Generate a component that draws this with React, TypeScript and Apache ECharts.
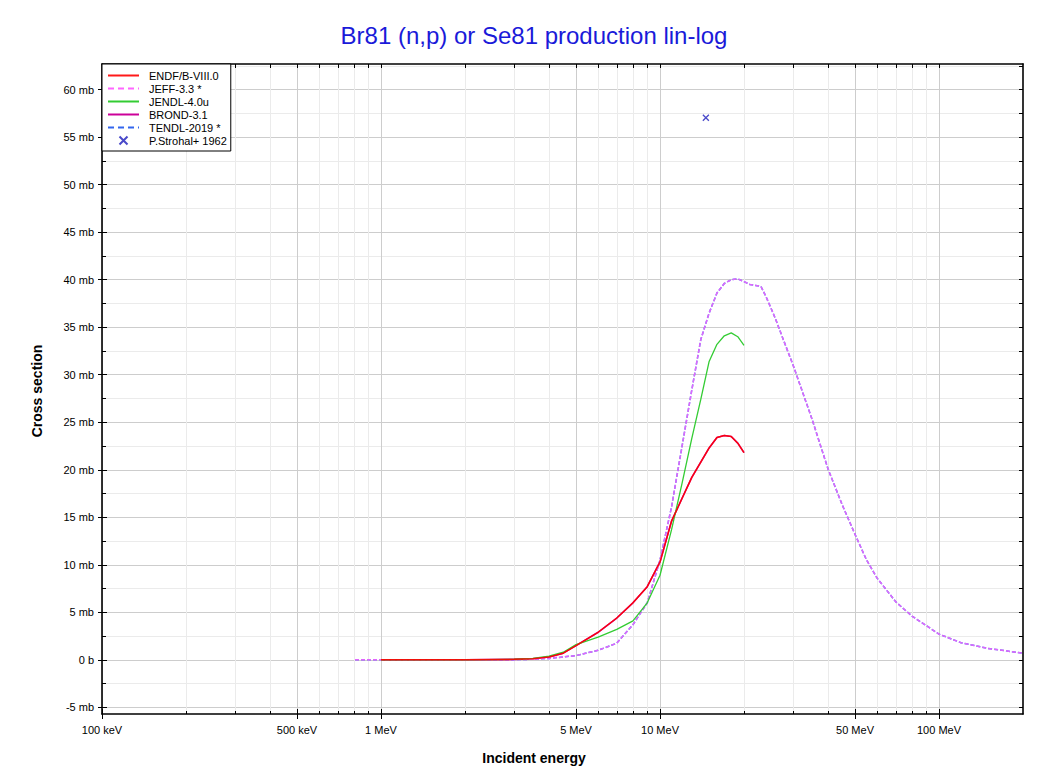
import React, { useEffect, useRef } from "react";
import * as echarts from "echarts";

const FONT = "'Liberation Sans', Arial, Helvetica, sans-serif";

const chartTitle = "Br81 (n,p) or Se81 production lin-log";
const xAxisTitle = "Incident energy";
const yAxisTitle = "Cross section";

// axis ranges: energy in MeV, cross section in mb
const xRange = [0.1, 200];
const yRange = [-5.7, 62.7];

const xLabelTicks = [0.1, 0.5, 1, 5, 10, 50, 100];
const xMinorTicks = [0.2, 0.3, 0.4, 0.6, 0.7, 0.8, 0.9, 2, 3, 4, 6, 7, 8, 9, 20, 30, 40, 60, 70, 80, 90];
const yLabelTicks = [-5, 0, 5, 10, 15, 20, 25, 30, 35, 40, 45, 50, 55, 60];
const yMinorTicks = [-2.5, 2.5, 7.5, 12.5, 17.5, 22.5, 27.5, 32.5, 37.5, 42.5, 47.5, 52.5, 57.5, 62.5];

// ENDF/B-VIII.0
const endfEnergy = [1, 2, 3, 3.5, 4, 4.5, 5, 6, 7, 8, 9, 10, 11, 12, 13, 14, 15, 16, 17, 18, 19, 20];
const endfXs = [0, 0.005, 0.05, 0.12, 0.3, 0.7, 1.5, 2.9, 4.4, 6.0, 7.7, 10.3, 14.6, 17.0, 19.2, 20.8, 22.3, 23.4, 23.6, 23.5, 22.8, 21.8];

// JEFF-3.3 *
const jeffEnergy = [0.807, 1, 2, 3, 3.5, 4, 4.5, 5, 6, 7, 8, 9, 10, 11, 12, 13, 14, 15, 16, 17, 18, 19, 20, 21, 22, 23, 24, 25, 26, 28, 30, 35, 40, 45, 50, 55, 60, 70, 80, 90, 100, 120, 150, 200];
const jeffXs = [0, 0, 0.002, 0.02, 0.06, 0.15, 0.3, 0.45, 1.0, 1.75, 3.7, 6.0, 10.5, 16.1, 22.5, 28.4, 33.7, 36.5, 38.6, 39.6, 40.0, 40.1, 39.8, 39.5, 39.4, 39.3, 38.2, 37.0, 35.8, 33.3, 31.0, 25.4, 20.1, 16.3, 13.2, 10.5, 8.6, 6.1, 4.6, 3.6, 2.7, 1.8, 1.2, 0.7];

// JENDL-4.0u
const jendlEnergy = [1, 2, 3, 3.5, 4, 4.5, 5, 6, 7, 8, 9, 10, 11, 12, 13, 14, 15, 16, 17, 18, 19, 20];
const jendlXs = [0, 0.005, 0.06, 0.15, 0.38, 0.8, 1.6, 2.4, 3.2, 4.1, 6.0, 8.9, 13.7, 18.6, 23.3, 27.4, 31.4, 33.2, 34.1, 34.4, 34.0, 33.1];

// BROND-3.1 (lies under the ENDF curve)
const brondEnergy = [1, 2, 3, 3.5, 4, 4.5, 5, 6, 7, 8, 9, 10, 11, 12, 13, 14, 15, 16, 17, 18, 19, 20];
const brondXs = [0, 0.005, 0.05, 0.12, 0.3, 0.7, 1.5, 2.9, 4.4, 6.0, 7.7, 10.3, 14.6, 17.0, 19.2, 20.8, 22.3, 23.4, 23.6, 23.5, 22.8, 21.8];

// TENDL-2019 * (lies under the JEFF curve)
const tendlEnergy = [0.807, 1, 2, 3, 3.5, 4, 4.5, 5, 6, 7, 8, 9, 10, 11, 12, 13, 14, 15, 16, 17, 18, 19, 20, 21, 22, 23, 24, 25, 26, 28, 30, 35, 40, 45, 50, 55, 60, 70, 80, 90, 100, 120, 150, 200];
const tendlXs = [0, 0, 0.002, 0.02, 0.06, 0.15, 0.3, 0.45, 1.0, 1.75, 3.7, 6.0, 10.5, 16.1, 22.5, 28.4, 33.7, 36.5, 38.6, 39.6, 40.0, 40.1, 39.8, 39.5, 39.4, 39.3, 38.2, 37.0, 35.8, 33.3, 31.0, 25.4, 20.1, 16.3, 13.2, 10.5, 8.6, 6.1, 4.6, 3.6, 2.7, 1.8, 1.2, 0.7];

// P.Strohal+ 1962
const expEnergy = [14.6];
const expXs = [57.05];

const seriesNames = ["ENDF/B-VIII.0", "JEFF-3.3 *", "JENDL-4.0u", "BROND-3.1", "TENDL-2019 *", "P.Strohal+ 1962"];

const zip = (a: number[], b: number[]) => a.map((v, i) => [v, b[i]]);
const lg = (v: number) => Math.log10(v);
const LX0 = lg(xRange[0]);
const LX1 = lg(xRange[1]);

function energyLabel(v: number) {
  const e = Math.pow(10, v);
  if (e < 0.999) return `${Math.round(e * 1000)} keV`;
  return `${Math.round(e)} MeV`;
}
function xsLabel(v: number) {
  if (Math.abs(v) < 1e-9) return "0 b";
  return `${v} mb`;
}

type AxOpt = {
  position: string;
  line?: boolean;
  ticks?: number[];
  inside?: boolean;
  len?: number;
  labels?: boolean;
  split?: string;
};

function overlayAxis(kind: "x" | "y", o: AxOpt) {
  const isX = kind === "x";
  const min = isX ? LX0 : yRange[0];
  const max = isX ? LX1 : yRange[1];
  return {
    type: "value",
    min,
    max,
    position: o.position,
    silent: true,
    axisLine: { show: !!o.line, onZero: false, lineStyle: { color: "#000", width: 1.6 } },
    axisTick: o.ticks
      ? { show: true, inside: !!o.inside, length: o.len ?? 4, customValues: o.ticks, lineStyle: { color: "#000", width: 1 } }
      : { show: false },
    axisLabel: o.labels && o.ticks
      ? {
          show: true,
          customValues: o.ticks,
          formatter: isX ? energyLabel : xsLabel,
          margin: isX ? 10 : 8,
          fontSize: 11,
          fontFamily: FONT,
          color: "#000",
        }
      : { show: false },
    splitLine: o.split ? { show: true, lineStyle: { color: o.split, width: 1 } } : { show: false },
    minorTick: { show: false },
    minorSplitLine: { show: false },
  };
}

function lineSeries(name: string, e: number[], xs: number[], color: string, width: number, z: number, extra: any = {}) {
  return {
    name,
    type: "line",
    xAxisIndex: 0,
    yAxisIndex: 0,
    data: zip(e, xs),
    symbol: "none",
    showSymbol: false,
    lineStyle: { color, width, ...extra },
    itemStyle: { color, opacity: 0 },
    z,
    silent: true,
  };
}

function buildOption() {
  const xMajor = xLabelTicks.map(lg);
  const xMinor = xMinorTicks.map(lg);
  const yAll = [...yLabelTicks, ...yMinorTicks].sort((a, b) => a - b);

  return {
    animation: false,
    backgroundColor: "#ffffff",
    textStyle: { fontFamily: FONT },
    grid: { left: 102, right: 26, top: 64, bottom: 60, containLabel: false, outerBoundsMode: "none" },
    xAxis: [
      {
        type: "log",
        logBase: 10,
        min: xRange[0],
        max: xRange[1],
        position: "bottom",
        axisLine: { show: false, onZero: false },
        axisTick: { show: false },
        axisLabel: { show: false },
        splitLine: { show: false },
        minorTick: { show: false },
        minorSplitLine: { show: false },
      },
      overlayAxis("x", { position: "bottom", ticks: xMinor, inside: true, len: 3, split: "#ebebeb" }),
      overlayAxis("x", { position: "bottom", line: true, ticks: xMajor, inside: false, len: 5, labels: true, split: "#cdcdcd" }),
      overlayAxis("x", { position: "bottom", ticks: xMajor, inside: true, len: 5 }),
      overlayAxis("x", { position: "top", line: true, ticks: [...xMajor, ...xMinor], inside: true, len: 4 }),
    ],
    yAxis: [
      overlayAxis("y", { position: "left", line: true, ticks: yLabelTicks, inside: false, len: 4, labels: true, split: "#cdcdcd" }),
      overlayAxis("y", { position: "left", ticks: yMinorTicks, inside: true, len: 4, split: "#ebebeb" }),
      overlayAxis("y", { position: "left", ticks: yLabelTicks, inside: true, len: 5 }),
      overlayAxis("y", { position: "right", line: true, ticks: yAll, inside: true, len: 4 }),
    ],
    legend: {
      orient: "vertical",
      left: 102,
      top: 64,
      itemWidth: 31,
      itemHeight: 8,
      itemGap: 2,
      padding: [6, 4, 5, 5],
      backgroundColor: "#ffffff",
      borderColor: "#000000",
      borderWidth: 1,
      borderRadius: 0,
      selectedMode: false,
      textStyle: { fontFamily: FONT, fontSize: 11, color: "#000", padding: [0, 0, 0, 5] },
      data: [
        { name: seriesNames[0], lineStyle: { width: 2 } },
        { name: seriesNames[1], lineStyle: { width: 2, type: [6, 4], opacity: 1 } },
        { name: seriesNames[2], lineStyle: { width: 2 } },
        { name: seriesNames[3], lineStyle: { width: 2 } },
        { name: seriesNames[4], lineStyle: { width: 2, type: [6, 4] } },
        { name: seriesNames[5] },
      ],
      z: 10,
    },
    series: [
      lineSeries(seriesNames[3], brondEnergy, brondXs, "#cc0099", 1.6, 2),
      lineSeries(seriesNames[4], tendlEnergy, tendlXs, "#3366ee", 1.5, 2, { type: [4, 2] }),
      lineSeries(seriesNames[1], jeffEnergy, jeffXs, "#ff66ff", 1.5, 3, { type: [4, 2], opacity: 0.85 }),
      lineSeries(seriesNames[2], jendlEnergy, jendlXs, "#33cc33", 1.3, 3),
      lineSeries(seriesNames[0], endfEnergy, endfXs, "#ff0000", 1.5, 4, { opacity: 0.9 }),
      {
        name: seriesNames[5],
        type: "scatter",
        xAxisIndex: 0,
        yAxisIndex: 0,
        data: zip(expEnergy, expXs),
        symbol: "path://M0,0L10,10M10,0L0,10",
        symbolSize: 6,
        itemStyle: { color: "#1c1cbb", borderColor: "#1c1cbb", borderWidth: 1.3 },
        z: 5,
        silent: true,
      },
    ],
    graphic: [
      {
        type: "text",
        x: 534,
        y: 35,
        silent: true,
        style: {
          text: chartTitle,
          fill: "#1a1ad9",
          font: `normal 24px ${FONT}`,
          align: "center",
          verticalAlign: "middle",
        },
      },
      {
        type: "text",
        x: 534,
        y: 758,
        silent: true,
        style: {
          text: xAxisTitle,
          fill: "#000",
          font: `bold 14px ${FONT}`,
          align: "center",
          verticalAlign: "middle",
        },
      },
      {
        type: "text",
        x: 37,
        y: 391,
        rotation: Math.PI / 2,
        silent: true,
        style: {
          text: yAxisTitle,
          fill: "#000",
          font: `bold 14px ${FONT}`,
          align: "center",
          verticalAlign: "middle",
        },
      },
    ],
  };
}

export default function App() {
  const ref = useRef<HTMLDivElement>(null);
  useEffect(() => {
    if (!ref.current) return;
    const chart = echarts.init(ref.current, null, { renderer: "svg" });
    chart.setOption(buildOption() as any);
    return () => chart.dispose();
  }, []);
  return (
    <div
      ref={ref}
      style={{ position: "fixed", left: 0, top: 0, width: 1049, height: 774, background: "#ffffff" }}
    />
  );
}
